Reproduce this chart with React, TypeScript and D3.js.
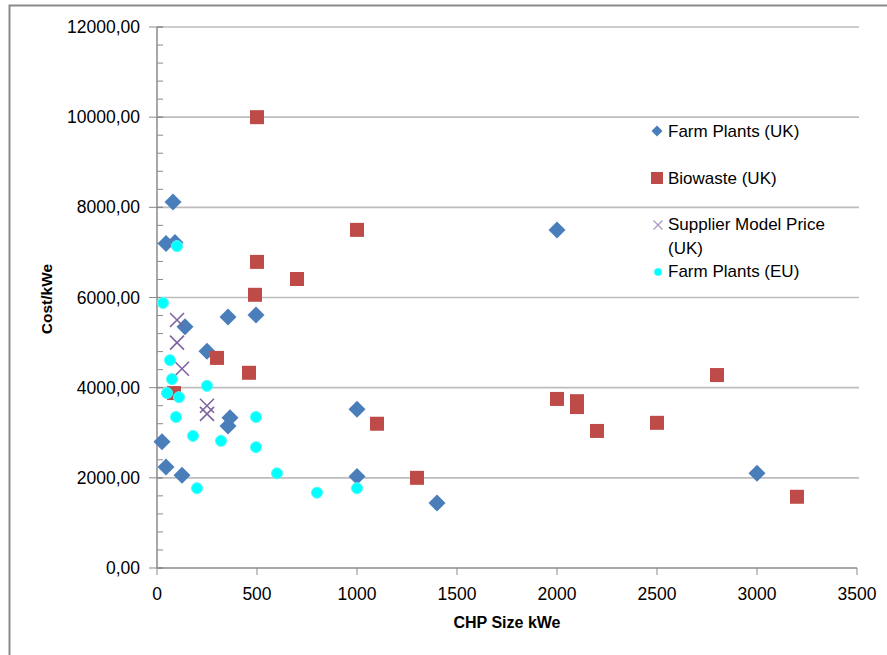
import React from "react";
import * as d3 from "d3";

const farmUK_x = [80, 45, 90, 140, 355, 495, 250, 365, 355, 25, 45, 125, 1000, 1000, 1400, 2000, 3000];
const farmUK_y = [8120, 7200, 7220, 5350, 5570, 5610, 4810, 3330, 3150, 2800, 2240, 2060, 3520, 2030, 1440, 7500, 2100];

const bio_x = [500, 500, 700, 490, 300, 460, 85, 1000, 1100, 1300, 2000, 2100, 2100, 2200, 2500, 2800, 3200];
const bio_y = [10000, 6790, 6410, 6060, 4660, 4330, 3880, 7500, 3200, 2000, 3750, 3700, 3570, 3040, 3220, 4280, 1580];

const sup_x = [100, 100, 125, 250, 250];
const sup_y = [5500, 5000, 4420, 3600, 3420];

const farmEU_x = [30, 100, 65, 75, 50, 110, 250, 95, 180, 320, 495, 495, 600, 200, 800, 1000];
const farmEU_y = [5880, 7140, 4610, 4190, 3880, 3790, 4040, 3350, 2930, 2820, 3350, 2680, 2100, 1770, 1670, 1770];

const xTicks = [0, 500, 1000, 1500, 2000, 2500, 3000, 3500];
const yTicks = [0, 2000, 4000, 6000, 8000, 10000, 12000];
const yMinorTicks = d3.range(0, 12001, 400);

const legendLabels = ["Farm Plants (UK)", "Biowaste (UK)", "Supplier Model Price", "(UK)", "Farm Plants (EU)"];
const xTitle = "CHP Size kWe";
const yTitle = "Cost/kWe";

const C_BLUE = "#4A7EBB";
const C_RED = "#BE4B48";
const C_PURPLE = "#8064A2";
const C_CYAN = "#00FFFF";
const FONT = "'Liberation Sans', Arial, sans-serif";

const fmt = d3.formatLocale({ decimal: ",", thousands: "", grouping: [3], currency: ["", ""] }).format(".2f");

function Diamond({ cx, cy, r, fill }: { cx: number; cy: number; r: number; fill: string }) {
  return <path d={`M${cx},${cy - r}L${cx + r},${cy}L${cx},${cy + r}L${cx - r},${cy}Z`} fill={fill} />;
}
function Square({ cx, cy, s, fill }: { cx: number; cy: number; s: number; fill: string }) {
  return <rect x={cx - s / 2} y={cy - s / 2} width={s} height={s} fill={fill} />;
}
function Cross({ cx, cy, r, stroke, sw }: { cx: number; cy: number; r: number; stroke: string; sw: number }) {
  return (
    <path d={`M${cx - r},${cy - r}L${cx + r},${cy + r}M${cx - r},${cy + r}L${cx + r},${cy - r}`} stroke={stroke} strokeWidth={sw} fill="none" />
  );
}

export default function App() {
  const x = d3.scaleLinear().domain([0, 3500]).range([157, 857]);
  const y = d3.scaleLinear().domain([0, 12000]).range([568, 27]);

  return (
    <svg width={887} height={655} style={{ position: "absolute", left: 0, top: 0, background: "#fff" }} fontFamily={FONT}>
      <rect x={0} y={0} width={887} height={655} fill="#fff" />
      <rect x={9.5} y={5.5} width={900} height={700} fill="none" stroke="#8a8a8a" strokeWidth={2} />

      {/* gridlines */}
      {yTicks.filter((t) => t > 0).map((t) => (
        <line key={"g" + t} x1={x(0)} x2={x(3500) + 2} y1={y(t)} y2={y(t)} stroke="#bdbdbd" strokeWidth={1.6} />
      ))}

      {/* y axis */}
      <line x1={x(0)} x2={x(0)} y1={y(12000)} y2={y(0)} stroke="#8a8a8a" strokeWidth={1.5} />
      {yMinorTicks.map((t) => (
        <line key={"m" + t} x1={x(0)} x2={x(0) + 6} y1={y(t)} y2={y(t)} stroke="#8a8a8a" strokeWidth={1} />
      ))}
      {yTicks.map((t) => (
        <g key={"y" + t}>
          <line x1={x(0) - 8} x2={x(0) + 6} y1={y(t)} y2={y(t)} stroke="#8a8a8a" strokeWidth={1} />
          <text x={140} y={y(t) + 6} textAnchor="end" fontSize={17.5} fill="#000">
            {fmt(t)}
          </text>
        </g>
      ))}

      {/* x axis */}
      <line x1={x(0)} x2={x(3500)} y1={y(0)} y2={y(0)} stroke="#8a8a8a" strokeWidth={1.5} />
      {xTicks.map((t) => (
        <g key={"x" + t}>
          <line x1={x(t)} x2={x(t)} y1={y(0)} y2={y(0) + 7} stroke="#8a8a8a" strokeWidth={1} />
          <text x={x(t)} y={600} textAnchor="middle" fontSize={17.5} fill="#000">
            {t}
          </text>
        </g>
      ))}

      {/* axis titles */}
      <text x={507} y={628} textAnchor="middle" fontSize={16} fontWeight="bold" fill="#000">
        {xTitle}
      </text>
      <text transform={`translate(52,${299}) rotate(-90)`} textAnchor="middle" fontSize={15.5} fontWeight="bold" fill="#000">
        {yTitle}
      </text>

      {/* series */}
      {farmUK_x.map((v, i) => (
        <Diamond key={"fu" + i} cx={x(v)} cy={y(farmUK_y[i])} r={8.5} fill={C_BLUE} />
      ))}
      {bio_x.map((v, i) => (
        <Square key={"b" + i} cx={x(v)} cy={y(bio_y[i])} s={14} fill={C_RED} />
      ))}
      {sup_x.map((v, i) => (
        <Cross key={"s" + i} cx={x(v)} cy={y(sup_y[i])} r={7} stroke={C_PURPLE} sw={1.6} />
      ))}
      {farmEU_x.map((v, i) => (
        <circle key={"fe" + i} cx={x(v)} cy={y(farmEU_y[i])} r={5.5} fill={C_CYAN} stroke="#4dfafa" strokeWidth={1} />
      ))}

      {/* legend */}
      <Diamond cx={657} cy={131} r={5.5} fill={C_BLUE} />
      <text x={668} y={137} fontSize={17} fill="#000">{legendLabels[0]}</text>
      <Square cx={657} cy={178} s={12} fill={C_RED} />
      <text x={668} y={184} fontSize={17} fill="#000">{legendLabels[1]}</text>
      <Cross cx={658} cy={225} r={4.5} stroke="#a898c0" sw={1.2} />
      <text x={668} y={230} fontSize={17} fill="#000">{legendLabels[2]}</text>
      <text x={668} y={254} fontSize={17} fill="#000">{legendLabels[3]}</text>
      <circle cx={658} cy={272} r={3.8} fill={C_CYAN} />
      <text x={668} y={277} fontSize={17} fill="#000">{legendLabels[4]}</text>
    </svg>
  );
}
